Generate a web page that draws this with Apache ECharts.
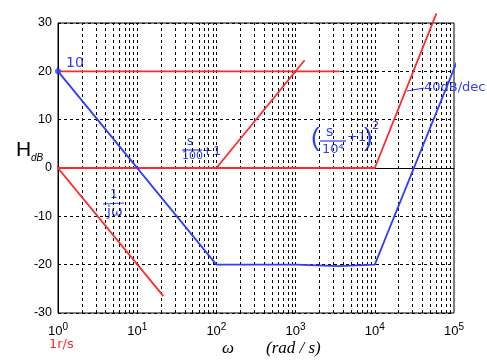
<!DOCTYPE html>
<html><head><meta charset="utf-8">
<script src="https://cdn.jsdelivr.net/npm/echarts@6/dist/echarts.min.js"></script>
<style>html,body{margin:0;padding:0;background:#fff}#c{width:487px;height:362px}</style>
</head><body><div id="c"></div>
<script>
// axis settings
const xMin = 1, xMax = 100000;
const yMin = -30, yMax = 30, yStep = 10;
// asymptote segments [omega, dB]
const flat20 = [[1, 20], [3600, 20]];
const doublePole = [[0.75, 0], [10000, 0], [60000, 32]];
const zeroAt100 = [[100, 0], [1300, 22.3]];
const integrator = [[0.84, 1.5], [21.4, -26.5]];
const total = [[0.86, 23], [1, 20], [100, -20], [1000, -20], [3500, -20.3], [10000, -20], [115000, 23]];
const markerPt = [[1, 20]];

// vertical dashed grid positions (2..9, 10.. per decade)
const gridX = [];
for (let d = 1; d < xMax; d *= 10) for (let k = 1; k <= 9; k++) { const v = d * k; if (v > xMin && v < xMax) gridX.push(v); }

const RED = '#ff2b2b', BLUE = '#2f3dff';
const chart = echarts.init(document.getElementById('c'));
const lineS = (data, color) => ({type: 'line', data, showSymbol: false, clip: false, lineStyle: {color, width: 1.8}, z: 5, animation: false});

const hand = "'DejaVu Sans', sans-serif";
chart.setOption({
  animation: false,
  grid: {left: 58, right: 33, top: 23, bottom: 49, show: true, borderColor: '#000', borderWidth: 1},
  xAxis: {type: 'log', logBase: 10, min: xMin, max: xMax,
    axisLine: {show: true, lineStyle: {color: '#000'}}, axisTick: {show: false}, splitLine: {show: false},
    axisLabel: {margin: 9, color: '#000', fontFamily: 'Liberation Sans', fontSize: 13,
      formatter: v => '10{s|' + Math.round(Math.log10(v)) + '}',
      rich: {s: {fontSize: 10, fontFamily: 'Liberation Sans', color: '#000', padding: [0, 0, 9, 0]}}}},
  yAxis: {type: 'value', min: yMin, max: yMax, interval: yStep,
    axisLine: {show: true, lineStyle: {color: '#000'}}, axisTick: {show: false},
    splitLine: {show: true, lineStyle: {color: '#000', type: [3, 3], width: 1}},
    axisLabel: {margin: 6, color: '#000', fontFamily: 'Liberation Sans', fontSize: 12.5}},
  series: [
    {type: 'line', data: [], markLine: {silent: true, symbol: 'none', label: {show: false},
      lineStyle: {color: '#000', type: [3, 3], width: 1}, data: gridX.map(v => ({xAxis: v}))}, z: 1},
    lineS(flat20, RED),
    lineS(doublePole, RED),
    lineS(zeroAt100, RED),
    lineS(integrator, RED),
    lineS(total, BLUE),
    {type: 'scatter', data: markerPt, symbol: 'circle', symbolSize: 6, itemStyle: {color: BLUE}, z: 6}
  ],
  graphic: [
    {type: 'text', left: 16, top: 140, style: {text: 'H', font: '21px Liberation Sans', fill: '#000'}},
    {type: 'text', left: 31, top: 153, style: {text: 'dB', font: 'italic 10px Liberation Sans', fill: '#000'}},
    {type: 'text', left: 222, top: 340, style: {text: 'ω', font: 'italic 17px Liberation Serif', fill: '#000'}},
    {type: 'text', left: 266, top: 340, style: {text: '(rad / s)', font: 'italic 17px Liberation Serif', fill: '#000'}},
    // handwritten notes
    {type: 'text', left: 66, top: 56, style: {text: '10', font: '14px ' + hand, fill: BLUE}},
    {type: 'text', left: 187, top: 136, style: {text: 's', font: '12px ' + hand, fill: BLUE}},
    {type: 'line', shape: {x1: 182, y1: 150, x2: 202, y2: 150}, style: {stroke: BLUE, lineWidth: 1.2}},
    {type: 'text', left: 182, top: 151, style: {text: '100', font: '11px ' + hand, fill: BLUE}},
    {type: 'text', left: 202, top: 145, style: {text: '+1', font: '13px ' + hand, fill: BLUE}},
    {type: 'text', left: 311, top: 126, style: {text: '(', font: '26px Liberation Sans', fill: BLUE}},
    {type: 'text', left: 326, top: 125, style: {text: 's', font: '14px ' + hand, fill: BLUE}},
    {type: 'line', shape: {x1: 320, y1: 141, x2: 346, y2: 141}, style: {stroke: BLUE, lineWidth: 1.2}},
    {type: 'text', left: 322, top: 143, style: {text: '10⁴', font: '13px ' + hand, fill: BLUE}},
    {type: 'text', left: 347, top: 131, style: {text: '+1', font: '13px ' + hand, fill: BLUE}},
    {type: 'text', left: 364, top: 126, style: {text: ')', font: '26px Liberation Sans', fill: BLUE}},
    {type: 'text', left: 372, top: 121, style: {text: '2', font: '11px ' + hand, fill: BLUE}},
    {type: 'line', shape: {x1: 407, y1: 91, x2: 424, y2: 88}, style: {stroke: BLUE, lineWidth: 1.2}},
    {type: 'text', left: 424, top: 81, style: {text: '40dB/dec', font: '13px ' + hand, fill: BLUE}},
    {type: 'text', left: 110, top: 189, style: {text: '1', font: '12px ' + hand, fill: BLUE}},
    {type: 'line', shape: {x1: 103, y1: 204, x2: 124, y2: 203}, style: {stroke: BLUE, lineWidth: 1.2}},
    {type: 'text', left: 107, top: 205, style: {text: 'jω', font: '14px ' + hand, fill: BLUE}},
    {type: 'text', left: 49, top: 338, style: {text: '1r/s', font: '13px ' + hand, fill: RED}}
  ]
});
</script></body></html>
